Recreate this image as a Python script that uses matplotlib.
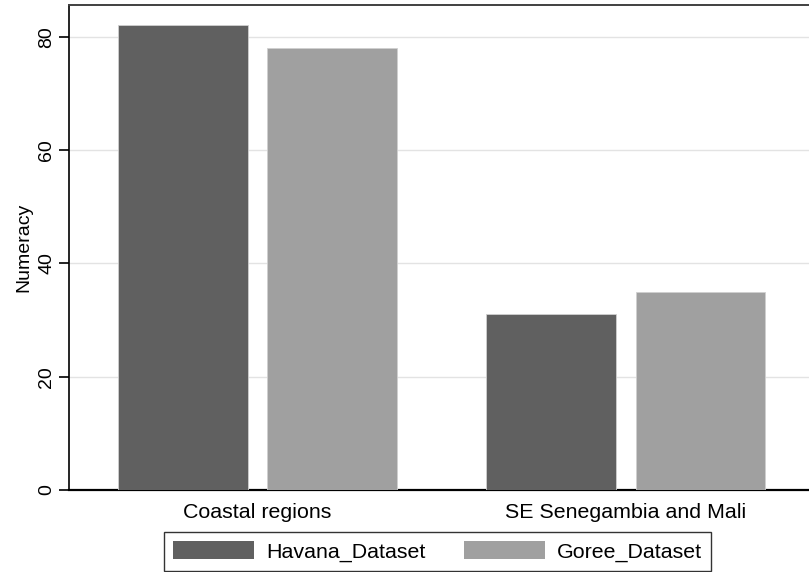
import numpy as np
import matplotlib.pyplot as plt

plt.rcParams['font.family'] = ['Liberation Sans', 'DejaVu Sans']

# Data
regions = ['Coastal regions', 'SE Senegambia and Mali']
havana = [82, 31]
goree = [78, 35]
series_names = ['Havana_Dataset', 'Goree_Dataset']
colors = ['#606060', '#a0a0a0']

fig = plt.figure(figsize=(8.09, 5.72), dpi=100)
ax = fig.add_axes([69 / 809, 82 / 572, 1 - 69 / 809 + 0.01, (490 - 5) / 572])

x = np.arange(len(regions))
width = 0.352
offset = 0.203
h1 = ax.bar(x - offset, havana, width, color=colors[0], edgecolor='#d0d0d0',
            linewidth=0.6, label=series_names[0], zorder=3)
h2 = ax.bar(x + offset, goree, width, color=colors[1], edgecolor='#d0d0d0',
            linewidth=0.6, label=series_names[1], zorder=3)

ax.set_xlim(-0.512, 1.52)
ax.set_ylim(0, 85.6)
ax.set_yticks([0, 20, 40, 60, 80])
ax.set_yticklabels(['0', '20', '40', '60', '80'], rotation=90, va='center', fontsize=14)
ax.yaxis.grid(True, color='#e3e3e3', linewidth=1.0, zorder=0)
ax.set_xticks(x)
ax.set_xticklabels(regions, fontsize=15.4)
ax.tick_params(axis='x', length=0, pad=9)
ax.tick_params(axis='y', length=7, width=1.2, pad=3)
ax.set_ylabel('Numeracy', fontsize=14, labelpad=4)

ax.spines['left'].set_linewidth(1.2)
ax.spines['bottom'].set_linewidth(1.6)
ax.spines['top'].set_linewidth(1.4)
ax.spines['top'].set_color('#404040')
ax.spines['right'].set_visible(False)

leg = fig.legend(handles=[h1, h2], labels=series_names, loc='upper left',
                 bbox_to_anchor=(164 / 809, 1 - 532 / 572), ncol=2, frameon=True,
                 fancybox=False, edgecolor='black', fontsize=15.4,
                 handlelength=3.8, handleheight=0.93, columnspacing=1.78,
                 borderpad=0.42, handletextpad=0.56, borderaxespad=0)
leg.get_frame().set_linewidth(1.0)
for p in leg.get_patches():
    p.set_edgecolor('none')

fig.savefig('out.png', dpi=100)
